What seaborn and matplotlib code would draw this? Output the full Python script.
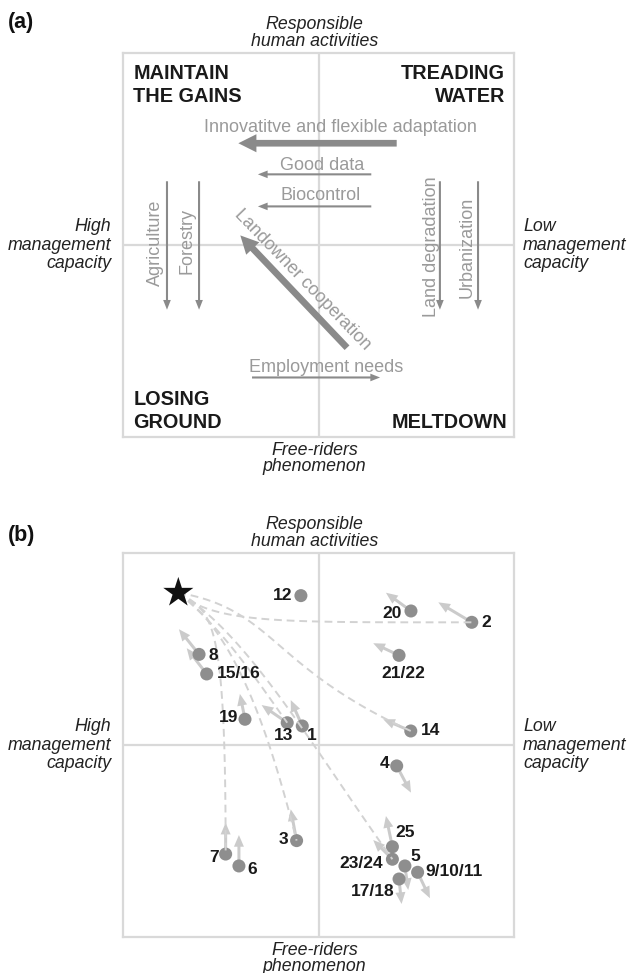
import numpy as np
import matplotlib
matplotlib.use("Agg")
import matplotlib.pyplot as plt
import pandas as pd
import seaborn as sns

sns.set_theme(style="white")
plt.rcParams['font.family'] = ['Liberation Sans', 'DejaVu Sans']

# ---- panel (a): driver arrows ----
drv_names = ["Innovatitve and flexible adaptation", "Good data", "Biocontrol",
             "Agriculture", "Forestry", "Land degradation", "Urbanization",
             "Landowner cooperation", "Employment needs"]
drv_x0 = [0.40, 0.27, 0.27, -0.775, -0.611, 0.621, 0.816, 0.146, -0.34]
drv_y0 = [0.53, 0.368, 0.201, 0.332, 0.332, 0.332, 0.332, -0.535, -0.69]
drv_x1 = [-0.41, -0.31, -0.31, -0.775, -0.611, 0.621, 0.816, -0.40, 0.315]
drv_y1 = [0.53, 0.368, 0.201, -0.337, -0.337, -0.337, -0.337, 0.05, -0.69]
drv_strong = [True, False, False, False, False, False, False, True, False]

# ---- panel (b): sites ----
site = ["12", "20", "2", "21/22", "8", "15/16", "19", "13", "1", "14", "4",
        "3", "7", "6", "25", "23/24", "5", "9/10/11", "17/18"]
site_x = [-0.090, 0.473, 0.784, 0.412, -0.611, -0.572, -0.376, -0.160, -0.083,
          0.472, 0.400, -0.112, -0.475, -0.407, 0.378, 0.378, 0.442, 0.507, 0.412]
site_y = [0.778, 0.698, 0.639, 0.467, 0.472, 0.370, 0.134, 0.116, 0.099,
          0.073, -0.109, -0.498, -0.568, -0.630, -0.530, -0.595, -0.630, -0.663, -0.698]
trend_x = [np.nan, 0.345, 0.613, 0.280, -0.714, -0.674, -0.402, -0.291, -0.142,
           0.331, 0.473, -0.142, -0.475, -0.407, 0.345, 0.280, 0.459, 0.570, 0.425]
trend_y = [np.nan, 0.793, 0.743, 0.530, 0.603, 0.504, 0.266, 0.208, 0.234,
           0.134, -0.248, -0.335, -0.405, -0.469, -0.370, -0.495, -0.755, -0.798, -0.828]
target_x, target_y = -0.717, 0.793
path_sites = ["2", "14", "23/24", "13", "3", "7"]

# ---- layout / style ----
W, H = 632, 973
fig = plt.figure(figsize=(W / 100, H / 100), dpi=100)
frame_col = "#d9d9d9"
dark_gray = "#8a8a8a"
text_gray = "#9a9a9a"
light_gray = "#cbcbcb"
dot_col = "#8e8e8e"


def make_axes(top_px):
    ax = fig.add_axes([123 / W, 1 - (top_px + 384) / H, 391 / W, 384 / H])
    ax.set_xlim(-1, 1)
    ax.set_ylim(-1, 1)
    ax.set_xticks([])
    ax.set_yticks([])
    for s in ax.spines.values():
        s.set_color(frame_col)
        s.set_linewidth(1.6)
    ax.axhline(0, color=frame_col, lw=1.6, zorder=0)
    ax.axvline(0, color=frame_col, lw=1.6, zorder=0)
    kw = dict(transform=ax.transAxes, fontsize=12.8, style="italic", color="#222222")
    ax.text(0.49, 1.008, "Responsible\nhuman activities", ha="center", va="bottom",
            linespacing=1.0, **kw)
    ax.text(0.49, -0.012, "Free-riders\nphenomenon", ha="center", va="top",
            linespacing=0.92, **kw)
    ax.text(-0.03, 0.5, "High\nmanagement\ncapacity", ha="right", va="center",
            multialignment="right", linespacing=1.08, **kw)
    ax.text(1.023, 0.5, "Low\nmanagement\ncapacity", ha="left", va="center",
            multialignment="left", linespacing=1.08, **kw)
    return ax


# panel (a)
ax_a = make_axes(53)
fig.text(8 / W, 1 - 12 / H, "(a)", fontsize=15.5, fontweight="bold", va="top", color="#111111")
qkw = dict(transform=ax_a.transAxes, fontsize=14.3, fontweight="bold", color="#1a1a1a",
           linespacing=1.3)
ax_a.text(0.026, 0.972, "MAINTAIN\nTHE GAINS", ha="left", va="top", **qkw)
ax_a.text(0.977, 0.972, "TREADING\nWATER", ha="right", va="top", multialignment="right", **qkw)
ax_a.text(0.026, 0.013, "LOSING\nGROUND", ha="left", va="bottom", **qkw)
ax_a.text(0.982, 0.013, "MELTDOWN", ha="right", va="bottom", **qkw)

for x0, y0, x1, y1, strong in zip(drv_x0, drv_y0, drv_x1, drv_y1, drv_strong):
    if strong:
        style = "simple,head_length=0.65,head_width=0.65,tail_width=0.24"
        ms = 20
    else:
        style = "simple,head_length=0.7,head_width=0.55,tail_width=0.15"
        ms = 10
    ax_a.annotate("", xy=(x1, y1), xytext=(x0, y0),
                  arrowprops=dict(arrowstyle=style, mutation_scale=ms, color=dark_gray,
                                  lw=0, shrinkA=0, shrinkB=0), zorder=3)

lab_pos = [(0.11, 0.614, 0), (0.018, 0.415, 0), (0.013, 0.258, 0),
           (-0.836, 0.01, 90), (-0.673, 0.02, 90), (0.58, -0.01, 90),
           (0.76, -0.01, 90), (-0.08, -0.18, -46), (0.04, -0.64, 0)]
for name, (tx, ty, rot) in zip(drv_names, lab_pos):
    ax_a.text(tx, ty, name, ha="center", va="center", rotation=rot,
              rotation_mode="anchor", fontsize=13, color=text_gray, zorder=4)

# panel (b)
ax_b = make_axes(553)
fig.text(8 / W, 1 - 525 / H, "(b)", fontsize=15.5, fontweight="bold", va="top", color="#111111")

df = pd.DataFrame({"site": site, "x": site_x, "y": site_y, "tx": trend_x, "ty": trend_y})

# trend arrows
for _, r in df.dropna().iterrows():
    ax_b.annotate("", xy=(r.tx, r.ty), xytext=(r.x, r.y),
                  arrowprops=dict(arrowstyle="simple,head_length=0.7,head_width=0.6,tail_width=0.18",
                                  mutation_scale=12, color=light_gray, lw=0,
                                  shrinkA=0, shrinkB=0), zorder=2)

sns.scatterplot(data=df, x="x", y="y", s=88, color=dot_col, edgecolor="none",
                ax=ax_b, zorder=3, legend=False)

# dashed pathways toward the target (cubic curves: start angle/len, end angle/len)
curve_shape = {"2": (-40, 0.25, 0, 1.0), "14": (-10, 0.5, -25, 0.8),
               "23/24": (-30, 0.4, -55, 0.7), "13": (-40, 0.3, -55, 0.3),
               "3": (-35, 0.35, -76, 0.6), "7": (-30, 0.2, -90, 1.25)}
t = np.linspace(0, 1, 120)[:, None]
for s_name in path_sites:
    r = df[df.site == s_name].iloc[0]
    a0, l0, a1, l1 = curve_shape[s_name]
    p0 = np.array([target_x, target_y])
    p3 = np.array([r.x, r.y])
    p1 = p0 + l0 * np.array([np.cos(np.radians(a0)), np.sin(np.radians(a0))])
    p2 = p3 - l1 * np.array([np.cos(np.radians(a1)), np.sin(np.radians(a1))])
    pts = (1 - t) ** 3 * p0 + 3 * (1 - t) ** 2 * t * p1 + 3 * (1 - t) * t ** 2 * p2 + t ** 3 * p3
    ax_b.plot(pts[:, 0], pts[:, 1], color="#d2d2d2", lw=1.4, ls=(0, (4, 2.5)), zorder=4)

sns.scatterplot(x=[target_x], y=[target_y], marker="*", s=520, color="#111111",
                edgecolor="none", ax=ax_b, zorder=5, legend=False)

lab_off = {"12": (-9, 0, "right"), "20": (-9, 3, "right"), "2": (10, 0, "left"),
           "21/22": (4, 18, "center"), "8": (9, 1, "left"), "15/16": (10, 0, "left"),
           "19": (-7, -2, "right"), "13": (-4, 13, "center"), "1": (5, 10, "left"),
           "14": (10, 0, "left"), "4": (-7, -2, "right"), "3": (-8, -1, "right"),
           "7": (-7, 3, "right"), "6": (8, 4, "left"), "25": (3, -14, "left"),
           "23/24": (-9, 4, "right"), "5": (6, -9, "left"), "9/10/11": (8, -1, "left"),
           "17/18": (-5, 12, "right")}
for _, r in df.iterrows():
    dx, dy, ha = lab_off[r.site]
    ax_b.annotate(r.site, xy=(r.x, r.y), xytext=(dx * 0.72, -dy * 0.72),
                  textcoords="offset points", ha=ha, va="center",
                  fontsize=12.5, fontweight="bold", color="#1a1a1a", zorder=6)

fig.savefig("out.png", dpi=100)
